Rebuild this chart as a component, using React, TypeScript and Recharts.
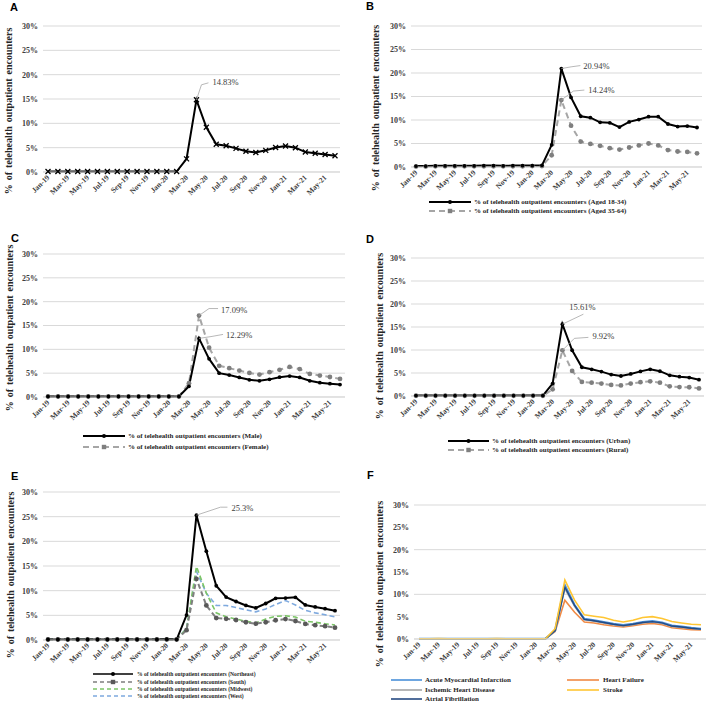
import React from 'react';
import { LineChart, Line, XAxis, YAxis, CartesianGrid } from 'recharts';

const months = [
  'Jan-19', 'Feb-19', 'Mar-19', 'Apr-19', 'May-19', 'Jun-19', 'Jul-19', 'Aug-19', 'Sep-19', 'Oct-19', 'Nov-19', 'Dec-19',
  'Jan-20', 'Feb-20', 'Mar-20', 'Apr-20', 'May-20', 'Jun-20', 'Jul-20', 'Aug-20', 'Sep-20', 'Oct-20', 'Nov-20', 'Dec-20',
  'Jan-21', 'Feb-21', 'Mar-21', 'Apr-21', 'May-21', 'Jun-21',
];
const yTicks = [0, 5, 10, 15, 20, 25, 30];

// panel A
const overall = [0.1, 0.1, 0.1, 0.1, 0.1, 0.1, 0.1, 0.1, 0.1, 0.1, 0.1, 0.1, 0.1, 0.1, 2.7, 14.83, 9.2, 5.7, 5.4, 4.85, 4.25, 4.0, 4.45, 5.05, 5.35, 5.0, 4.1, 3.85, 3.6, 3.35];
// panel B
const aged18to34 = [0.2, 0.2, 0.25, 0.25, 0.25, 0.25, 0.25, 0.3, 0.3, 0.25, 0.3, 0.3, 0.3, 0.35, 4.7, 20.94, 14.8, 10.8, 10.5, 9.5, 9.4, 8.5, 9.6, 10.1, 10.7, 10.7, 9.15, 8.6, 8.7, 8.4];
const aged35to64 = [0.1, 0.1, 0.15, 0.15, 0.15, 0.15, 0.15, 0.15, 0.15, 0.15, 0.15, 0.15, 0.2, 0.2, 2.5, 14.24, 8.8, 5.4, 4.9, 4.5, 4.0, 3.7, 4.15, 4.6, 5.0, 4.6, 3.6, 3.3, 3.2, 2.9];
// panel C
const male = [0.1, 0.1, 0.1, 0.1, 0.1, 0.1, 0.1, 0.1, 0.1, 0.1, 0.1, 0.1, 0.1, 0.1, 2.25, 12.29, 8.0, 5.0, 4.6, 4.1, 3.6, 3.4, 3.7, 4.15, 4.4, 4.1, 3.4, 3.0, 2.8, 2.6];
const female = [0.1, 0.1, 0.1, 0.1, 0.1, 0.1, 0.1, 0.1, 0.1, 0.1, 0.1, 0.1, 0.1, 0.1, 2.9, 17.09, 10.35, 6.55, 6.05, 5.55, 5.05, 4.7, 5.2, 5.7, 6.3, 5.85, 4.85, 4.5, 4.2, 3.8];
// panel D
const urban = [0.1, 0.1, 0.1, 0.1, 0.1, 0.1, 0.1, 0.1, 0.1, 0.1, 0.1, 0.1, 0.1, 0.1, 2.7, 15.61, 9.95, 6.25, 5.8, 5.3, 4.65, 4.35, 4.8, 5.35, 5.8, 5.4, 4.5, 4.2, 4.0, 3.55];
const rural = [0.05, 0.05, 0.05, 0.05, 0.05, 0.05, 0.05, 0.05, 0.05, 0.05, 0.05, 0.05, 0.05, 0.05, 1.45, 9.92, 5.45, 3.05, 2.9, 2.7, 2.4, 2.3, 2.7, 3.0, 3.2, 2.9, 2.1, 1.95, 1.9, 1.65];
// panel E
const northeast = [0.1, 0.1, 0.1, 0.1, 0.1, 0.1, 0.1, 0.1, 0.1, 0.1, 0.1, 0.1, 0.15, 0.1, 5.05, 25.3, 18.0, 11.0, 8.7, 7.8, 7.0, 6.5, 7.4, 8.45, 8.5, 8.65, 7.1, 6.7, 6.35, 5.95];
const south = [0.1, 0.1, 0.1, 0.1, 0.1, 0.1, 0.1, 0.1, 0.1, 0.1, 0.1, 0.1, 0.1, 0.1, 2.0, 12.4, 7.0, 4.45, 4.3, 4.05, 3.6, 3.3, 3.6, 4.0, 4.25, 3.85, 3.25, 3.0, 2.8, 2.5];
const midwest = [0.1, 0.1, 0.1, 0.1, 0.1, 0.1, 0.1, 0.1, 0.1, 0.1, 0.1, 0.1, 0.1, 0.1, 2.3, 14.9, 9.5, 5.5, 4.7, 4.25, 3.8, 3.45, 4.25, 4.8, 4.9, 4.65, 3.8, 3.6, 3.3, 3.05];
const west = [0.1, 0.1, 0.1, 0.1, 0.1, 0.1, 0.1, 0.1, 0.1, 0.1, 0.1, 0.1, 0.1, 0.1, 2.4, 13.9, 9.5, 7.0, 7.0, 6.6, 6.1, 5.7, 6.3, 7.2, 8.0, 7.1, 6.0, 5.5, 5.1, 4.7];
// panel F
const ami = [0.05, 0.05, 0.05, 0.05, 0.05, 0.05, 0.05, 0.05, 0.05, 0.05, 0.05, 0.05, 0.05, 0.05, 1.9, 12.0, 7.6, 4.5, 4.2, 3.8, 3.4, 3.1, 3.4, 3.8, 4.0, 3.7, 3.0, 2.8, 2.5, 2.3];
const heartFailure = [0.05, 0.05, 0.05, 0.05, 0.05, 0.05, 0.05, 0.05, 0.05, 0.05, 0.05, 0.05, 0.05, 0.05, 1.7, 8.7, 6.0, 3.8, 3.6, 3.2, 2.9, 2.7, 3.0, 3.3, 3.5, 3.2, 2.5, 2.3, 2.1, 2.0];
const ihd = [0.05, 0.05, 0.05, 0.05, 0.05, 0.05, 0.05, 0.05, 0.05, 0.05, 0.05, 0.05, 0.05, 0.05, 2.0, 11.3, 7.3, 4.3, 4.0, 3.6, 3.2, 2.9, 3.2, 3.6, 3.8, 3.5, 2.8, 2.6, 2.4, 2.2];
const stroke = [0.05, 0.05, 0.1, 0.05, 0.05, 0.05, 0.05, 0.05, 0.1, 0.05, 0.05, 0.05, 0.05, 0.05, 2.3, 13.2, 8.7, 5.4, 5.1, 4.8, 4.2, 3.8, 4.2, 4.8, 5.0, 4.6, 3.9, 3.6, 3.3, 3.2];
const afib = [0.05, 0.05, 0.05, 0.05, 0.05, 0.05, 0.05, 0.05, 0.05, 0.05, 0.05, 0.05, 0.05, 0.05, 1.9, 11.6, 7.5, 4.4, 4.1, 3.7, 3.3, 3.0, 3.3, 3.7, 3.9, 3.6, 2.9, 2.7, 2.4, 2.2];

const rows = months.map((m, i) => ({
  month: m,
  overall: overall[i],
  aged18to34: aged18to34[i],
  aged35to64: aged35to64[i],
  male: male[i],
  female: female[i],
  urban: urban[i],
  rural: rural[i],
  northeast: northeast[i],
  south: south[i],
  midwest: midwest[i],
  west: west[i],
  ami: ami[i],
  heartFailure: heartFailure[i],
  ihd: ihd[i],
  stroke: stroke[i],
  afib: afib[i],
}));

const SERIF = "'Liberation Serif', 'Times New Roman', serif";
const SANS = "'Liberation Sans', Arial, sans-serif";
const GRID = '#d9d9d9';
const PEAK = 15;

type Note = { text: string; path: (x: number, y: number) => string; tx: number; ty: number; anchor?: string };

function makeDot(kind: string, color: string, note?: Note) {
  return (p: any) => {
    const { cx, cy, index } = p;
    if (cx == null || cy == null) return <g key={`e-${index}`} />;
    let mark: React.ReactNode = null;
    if (kind === 'cross') {
      mark = (
        <path
          d={`M${cx - 2.5},${cy - 2.5}L${cx + 2.5},${cy + 2.5}M${cx - 2.5},${cy + 2.5}L${cx + 2.5},${cy - 2.5}`}
          stroke={color}
          strokeWidth={1.3}
        />
      );
    } else if (kind === 'dot') {
      mark = <circle cx={cx} cy={cy} r={1.9} fill={color} />;
    } else if (kind === 'bigdot') {
      mark = <circle cx={cx} cy={cy} r={2.4} fill={color} />;
    }
    return (
      <g key={`d-${index}`}>
        {mark}
        {note && index === PEAK ? (
          <g>
            <path d={note.path(cx, cy)} stroke="#a6a6a6" strokeWidth={0.8} fill="none" />
            <text
              x={cx + note.tx}
              y={cy + note.ty}
              fontSize={8.5}
              fontFamily={SERIF}
              fill="#404040"
              textAnchor={(note.anchor as any) || 'start'}
              dominantBaseline="central"
            >
              {note.text}
            </text>
          </g>
        ) : null}
      </g>
    );
  };
}

const XTick = (p: any) => {
  const { x, y, payload } = p;
  const ex = x + 2;
  const ey = y + 4;
  return (
    <text
      x={ex}
      y={ey}
      transform={`rotate(-45, ${ex}, ${ey})`}
      textAnchor="end"
      fontSize={7.5}
      fontWeight="bold"
      fontFamily={SERIF}
      fill="#404040"
    >
      {payload.value}
    </text>
  );
};

type SeriesDef = {
  key: string;
  color: string;
  width: number;
  dash?: string;
  dot: any;
};

type PanelProps = {
  left: number;
  top: number;
  width: number;
  height: number;
  plotLeft: number;
  plotRight: number;
  plotTop: number;
  plotBottom: number;
  series: SeriesDef[];
};

function Panel({ left, top, width, height, plotLeft, plotRight, plotTop, plotBottom, series }: PanelProps) {
  return (
    <div style={{ position: 'absolute', left, top, width, height }}>
      <LineChart
        width={width}
        height={height}
        data={rows}
        margin={{ top: plotTop - top, right: left + width - plotRight, left: 0, bottom: 0 }}
      >
        <CartesianGrid vertical={false} stroke={GRID} strokeWidth={1} />
        <XAxis
          dataKey="month"
          interval={1}
          padding={{ left: 5, right: 5 }}
          height={top + height - plotBottom}
          tick={<XTick />}
          tickLine={false}
          tickSize={0}
          tickMargin={2}
          axisLine={{ stroke: GRID }}
        />
        <YAxis
          width={plotLeft - left}
          domain={[0, 30]}
          ticks={yTicks}
          tickFormatter={(v: number) => `${v}%`}
          axisLine={false}
          tickLine={false}
          tickSize={0}
          tickMargin={5}
          tick={{ fontSize: 8, fontWeight: 'bold', fontFamily: SERIF, fill: '#404040' }}
        />
        {series.map((s) => (
          <Line
            key={s.key}
            type="linear"
            dataKey={s.key}
            stroke={s.color}
            strokeWidth={s.width}
            strokeDasharray={s.dash}
            dot={s.dot}
            activeDot={false}
            isAnimationActive={false}
          />
        ))}
      </LineChart>
    </div>
  );
}

const GREY_LINE = '#a6a6a6';
const GREY_MARK = '#7f7f7f';
const GREEN = '#7cc567';
const BLUE = '#7ea9de';
const SOUTH = '#7f7f7f';
const C_AMI = '#4a90d9';
const C_HF = '#f08a45';
const C_IHD = '#a5a5a5';
const C_STROKE = '#ffc633';
const C_AF = '#254a82';

const TITLE = '% of telehealth outpatient encounters';

type LegendItem = { y: number; x1: number; x2: number; tx: number; color: string; width: number; dash?: string; mark?: string; markColor?: string; text: string; size: number };

const legendItems: LegendItem[] = [
  { y: 202, x1: 429, x2: 471, tx: 474, color: '#000', width: 2, mark: 'dot', markColor: '#000', text: '% of telehealth outpatient encounters (Aged 18-34)', size: 7 },
  { y: 211, x1: 429, x2: 471, tx: 474, color: GREY_LINE, width: 2, dash: '6 4', mark: 'sq', markColor: GREY_MARK, text: '% of telehealth outpatient encounters (Aged 35-64)', size: 7 },
  { y: 436, x1: 83, x2: 125, tx: 128, color: '#000', width: 2, mark: 'dot', markColor: '#000', text: '% of telehealth outpatient encounters (Male)', size: 7 },
  { y: 447, x1: 83, x2: 125, tx: 128, color: GREY_LINE, width: 2, dash: '6 4', mark: 'sq', markColor: GREY_MARK, text: '% of telehealth outpatient encounters (Female)', size: 7 },
  { y: 441, x1: 448, x2: 489, tx: 492, color: '#000', width: 2, mark: 'dot', markColor: '#000', text: '% of telehealth outpatient encounters (Urban)', size: 7 },
  { y: 450, x1: 448, x2: 489, tx: 492, color: GREY_LINE, width: 2, dash: '6 4', mark: 'sq', markColor: GREY_MARK, text: '% of telehealth outpatient encounters (Rural)', size: 7 },
  { y: 674, x1: 93, x2: 133, tx: 137, color: '#000', width: 1.6, mark: 'dot', markColor: '#000', text: '% of telehealth outpatient encounters (Northeast)', size: 5.6 },
  { y: 682, x1: 93, x2: 133, tx: 137, color: SOUTH, width: 1.6, dash: '4 3', mark: 'sq', markColor: '#595959', text: '% of telehealth outpatient encounters (South)', size: 5.6 },
  { y: 689, x1: 93, x2: 133, tx: 137, color: GREEN, width: 1.4, dash: '4 3', text: '% of telehealth outpatient encounters (Midwest)', size: 5.6 },
  { y: 696, x1: 93, x2: 133, tx: 137, color: BLUE, width: 1.4, dash: '4 3', text: '% of telehealth outpatient encounters (West)', size: 5.6 },
  { y: 680, x1: 391, x2: 422, tx: 425, color: C_AMI, width: 1.6, text: 'Acute Myocardial Infarction', size: 7 },
  { y: 680, x1: 567, x2: 599, tx: 603, color: C_HF, width: 1.6, text: 'Heart Failure', size: 7 },
  { y: 690, x1: 391, x2: 422, tx: 425, color: C_IHD, width: 1.6, text: 'Ischemic Heart Disease', size: 7 },
  { y: 690, x1: 567, x2: 599, tx: 603, color: C_STROKE, width: 1.6, text: 'Stroke', size: 7 },
  { y: 699, x1: 391, x2: 422, tx: 425, color: C_AF, width: 1.6, text: 'Atrial Fibrillation', size: 7 },
];

const letters = [
  { t: 'A', x: 10, y: 11 },
  { t: 'B', x: 366, y: 10 },
  { t: 'C', x: 11, y: 242 },
  { t: 'D', x: 366, y: 243 },
  { t: 'E', x: 11, y: 480 },
  { t: 'F', x: 367, y: 479 },
];

const titles = [
  { x: 8, y: 111 },
  { x: 375, y: 108 },
  { x: 9, y: 328 },
  { x: 379, y: 336 },
  { x: 10, y: 575 },
  { x: 379, y: 584 },
];

function Overlay() {
  return (
    <svg width={709} height={704} style={{ position: 'absolute', left: 0, top: 0, pointerEvents: 'none' }}>
      {letters.map((l) => (
        <text key={l.t} x={l.x} y={l.y} fontSize={11} fontWeight="bold" fontFamily={SANS} fill="#000">
          {l.t}
        </text>
      ))}
      {titles.map((t, i) => (
        <text
          key={i}
          x={t.x}
          y={t.y}
          transform={`rotate(-90, ${t.x}, ${t.y})`}
          textAnchor="middle"
          dominantBaseline="central"
          fontSize={10}
          fontWeight="bold"
          fontFamily={SERIF}
          fill="#262626"
          wordSpacing={1.5}
        >
          {TITLE}
        </text>
      ))}
      {legendItems.map((l, i) => {
        const mx = (l.x1 + l.x2) / 2;
        return (
          <g key={i}>
            <line x1={l.x1} x2={l.x2} y1={l.y} y2={l.y} stroke={l.color} strokeWidth={l.width} strokeDasharray={l.dash} />
            {l.mark === 'dot' ? <circle cx={mx} cy={l.y} r={2} fill={l.markColor} /> : null}
            {l.mark === 'sq' ? <rect x={mx - 2.2} y={l.y - 2.2} width={4.4} height={4.4} fill={l.markColor} /> : null}
            <text x={l.tx} y={l.y} dominantBaseline="central" fontSize={l.size} fontWeight="bold" fontFamily={SERIF} fill="#262626">
              {l.text}
            </text>
          </g>
        );
      })}
    </svg>
  );
}

const noteA: Note = { text: '14.83%', path: (x, y) => `M${x},${y}L${x + 5},${y - 15}L${x + 12},${y - 17}`, tx: 16, ty: -18 };
const noteB1: Note = { text: '20.94%', path: (x, y) => `M${x},${y}Q${x + 10},${y - 2} ${x + 19},${y - 3}`, tx: 22, ty: -2.5 };
const noteB2: Note = { text: '14.24%', path: (x, y) => `M${x},${y}L${x + 12},${y - 9}L${x + 23},${y - 10}`, tx: 27, ty: -10 };
const noteC1: Note = { text: '17.09%', path: (x, y) => `M${x},${y}L${x + 10},${y - 7}L${x + 19},${y - 7}`, tx: 22, ty: -6 };
const noteC2: Note = { text: '12.29%', path: (x, y) => `M${x},${y}L${x + 13},${y - 2}L${x + 24},${y - 4}`, tx: 27, ty: -3.5 };
const noteD1: Note = { text: '15.61%', path: (x, y) => `M${x},${y}L${x + 21},${y - 10}`, tx: 20, ty: -17, anchor: 'middle' };
const noteD2: Note = { text: '9.92%', path: (x, y) => `M${x},${y}L${x + 12},${y - 12}L${x + 26},${y - 13}`, tx: 30, ty: -14 };
const noteE: Note = { text: '25.3%', path: (x, y) => `M${x},${y}L${x + 24},${y - 8}L${x + 31},${y - 8}`, tx: 35, ty: -7 };

export default function App() {
  return (
    <div style={{ position: 'absolute', left: 0, top: 0, width: 709, height: 704, background: '#fff' }}>
      <Panel
        left={0} top={0} width={354} height={205}
        plotLeft={43} plotRight={340} plotTop={26} plotBottom={172}
        series={[{ key: 'overall', color: '#000', width: 2, dot: makeDot('cross', '#000', noteA) }]}
      />
      <Panel
        left={354} top={0} width={355} height={200}
        plotLeft={411} plotRight={702} plotTop={26} plotBottom={167}
        series={[
          { key: 'aged35to64', color: GREY_LINE, width: 2, dash: '6 4', dot: makeDot('bigdot', GREY_MARK, noteB2) },
          { key: 'aged18to34', color: '#000', width: 2, dot: makeDot('dot', '#000', noteB1) },
        ]}
      />
      <Panel
        left={0} top={230} width={354} height={200}
        plotLeft={43} plotRight={345} plotTop={254} plotBottom={397}
        series={[
          { key: 'female', color: GREY_LINE, width: 2, dash: '6 4', dot: makeDot('bigdot', GREY_MARK, noteC1) },
          { key: 'male', color: '#000', width: 2, dot: makeDot('dot', '#000', noteC2) },
        ]}
      />
      <Panel
        left={354} top={230} width={355} height={200}
        plotLeft={411} plotRight={704} plotTop={258} plotBottom={396}
        series={[
          { key: 'rural', color: GREY_LINE, width: 2, dash: '6 4', dot: makeDot('bigdot', GREY_MARK, noteD2) },
          { key: 'urban', color: '#000', width: 2, dot: makeDot('dot', '#000', noteD1) },
        ]}
      />
      <Panel
        left={0} top={460} width={354} height={210}
        plotLeft={43} plotRight={340} plotTop={492} plotBottom={640}
        series={[
          { key: 'west', color: BLUE, width: 1.6, dash: '5 3', dot: false },
          { key: 'midwest', color: GREEN, width: 1.6, dash: '5 3', dot: false },
          { key: 'south', color: SOUTH, width: 2, dash: '5 3', dot: makeDot('bigdot', '#595959') },
          { key: 'northeast', color: '#000', width: 2, dot: makeDot('dot', '#000', noteE) },
        ]}
      />
      <Panel
        left={354} top={460} width={355} height={210}
        plotLeft={414} plotRight={706} plotTop={505} plotBottom={639}
        series={[
          { key: 'heartFailure', color: C_HF, width: 1.6, dot: false },
          { key: 'ihd', color: C_IHD, width: 1.6, dot: false },
          { key: 'ami', color: C_AMI, width: 2.2, dot: false },
          { key: 'afib', color: C_AF, width: 1.4, dot: false },
          { key: 'stroke', color: C_STROKE, width: 1.6, dot: false },
        ]}
      />
      <Overlay />
    </div>
  );
}
